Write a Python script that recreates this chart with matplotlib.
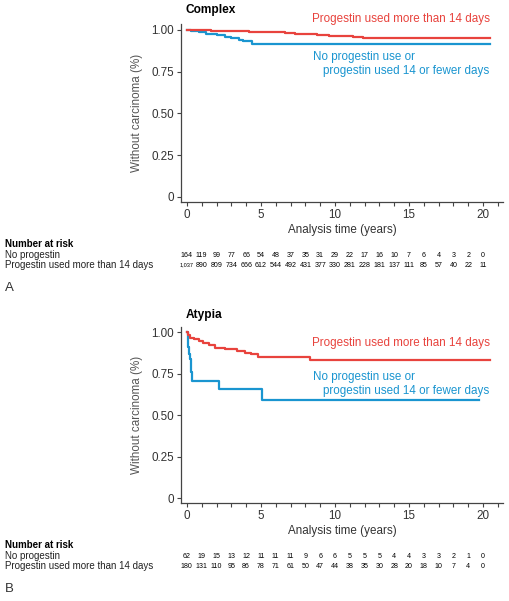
import matplotlib
matplotlib.use('Agg')
import matplotlib.pyplot as plt
from matplotlib.ticker import MultipleLocator
import matplotlib.transforms as mtransforms

plt.rcParams['font.family'] = ['Liberation Sans', 'DejaVu Sans']

RED = '#e8433d'
BLUE = '#1a95d0'
GREY = '#444444'

# Panel A - complex hyperplasia
complex_prog_t = [0, 0.8, 1.6, 2.5, 3.3, 4.2, 5.0, 5.8, 6.6, 7.3, 8.1, 8.8, 9.6, 10.4, 11.2, 11.9, 20.5]
complex_prog_s = [1.0, 0.998, 0.996, 0.994, 0.992, 0.990, 0.988, 0.985, 0.982, 0.978, 0.974, 0.970, 0.966, 0.962, 0.958, 0.954, 0.954]
complex_none_t = [0, 0.3, 0.8, 1.3, 2.0, 2.6, 3.0, 3.5, 3.8, 4.4, 20.5]
complex_none_s = [1.0, 0.994, 0.988, 0.976, 0.968, 0.960, 0.950, 0.942, 0.932, 0.914, 0.914]

# Panel B - atypia
atypia_prog_t = [0, 0.1, 0.2, 0.5, 0.8, 1.1, 1.5, 1.9, 2.6, 3.4, 3.9, 4.3, 4.8, 6.5, 8.3, 20.5]
atypia_prog_s = [1.0, 0.985, 0.964, 0.958, 0.950, 0.937, 0.925, 0.904, 0.898, 0.890, 0.878, 0.868, 0.853, 0.850, 0.833, 0.833]
atypia_none_t = [0, 0.05, 0.1, 0.15, 0.2, 0.25, 0.3, 0.35, 2.15, 5.1, 19.7]
atypia_none_s = [1.0, 0.95, 0.91, 0.87, 0.84, 0.80, 0.76, 0.707, 0.657, 0.593, 0.593]

risk_years = list(range(0, 21))
complex_risk_none = ['164', '119', '99', '77', '66', '54', '48', '37', '35', '31', '29', '22', '17', '16', '10', '7', '6', '4', '3', '2', '0']
complex_risk_prog = ['1,037', '890', '809', '734', '666', '612', '544', '492', '431', '377', '330', '281', '228', '181', '137', '111', '85', '57', '40', '22', '11']
atypia_risk_none = ['62', '19', '15', '13', '12', '11', '11', '11', '9', '6', '6', '5', '5', '5', '4', '4', '3', '3', '2', '1', '0']
atypia_risk_prog = ['180', '131', '110', '95', '86', '78', '71', '61', '50', '47', '44', '38', '35', '30', '28', '20', '18', '10', '7', '4', '0']

row_labels = ['No progestin', 'Progestin used more than 14 days']

W, H = 509, 601
fig = plt.figure(figsize=(W / 100, H / 100), dpi=100)
FS = 8.4


def fy(px):
    return 1 - px / H


def panel(top_px, bot_px, title, title_px, prog_t, prog_s, none_t, none_s,
          risk_none, risk_prog, lab_px, letter):
    ax = fig.add_axes([181 / W, fy(bot_px), (503 - 181) / W, (bot_px - top_px) / H])
    ax.step(none_t, none_s, where='post', color=BLUE, lw=1.6)
    ax.step(prog_t, prog_s, where='post', color=RED, lw=1.6)
    ax.set_xlim(-0.4, 21.35)
    ax.set_ylim(-0.03, 1.035)
    for s in ['top', 'right']:
        ax.spines[s].set_visible(False)
    for s in ['left', 'bottom']:
        ax.spines[s].set_color(GREY)
        ax.spines[s].set_linewidth(0.9)
    ax.set_yticks([0, 0.25, 0.5, 0.75, 1.0])
    ax.set_yticklabels(['0', '0.25', '0.50', '0.75', '1.00'])
    ax.xaxis.set_major_locator(MultipleLocator(5))
    ax.xaxis.set_minor_locator(MultipleLocator(1))
    ax.tick_params(axis='both', which='both', length=3, width=0.8, color=GREY,
                   labelsize=FS, labelcolor='#333333', pad=2)
    ax.set_xlabel('Analysis time (years)', fontsize=FS, color='#333333', labelpad=2)
    ax.set_ylabel('Without carcinoma (%)', fontsize=FS, color='#555555', labelpad=6)
    fig.text(186 / W, fy(title_px), title, fontsize=8.6, fontweight='bold', va='center')

    # curve labels
    ax.text(20.5, lab_px[0], 'Progestin used more than 14 days', color=RED,
            fontsize=FS, ha='right', va='center')
    ax.text(8.5, lab_px[1], 'No progestin use or', color=BLUE,
            fontsize=FS, ha='left', va='center')
    ax.text(20.4, lab_px[2], 'progestin used 14 or fewer days', color=BLUE,
            fontsize=FS, ha='right', va='center')

    # number at risk table
    y0 = bot_px + 42
    fig.text(5 / W, fy(y0), 'Number at risk', fontsize=7.0, fontweight='bold', va='center')
    fig.text(5 / W, fy(y0 + 11), row_labels[0], fontsize=7.0, va='center', color='#222222')
    fig.text(5 / W, fy(y0 + 21), row_labels[1], fontsize=7.0, va='center', color='#222222')
    tr = mtransforms.blended_transform_factory(ax.transData, fig.transFigure)
    for yr, a, b in zip(risk_years, risk_none, risk_prog):
        fig.text(yr, fy(y0 + 11), a, fontsize=5.1 if len(a) < 4 else 4.0,
                 ha='center', va='center', transform=tr)
        fig.text(yr, fy(y0 + 21), b, fontsize=5.1 if len(b) < 4 else 4.0,
                 ha='center', va='center', transform=tr)
    fig.text(5 / W, fy(y0 + 44), letter, fontsize=9.5, va='center', color='#333333')
    return ax


panel(24, 202, 'Complex', 10, complex_prog_t, complex_prog_s, complex_none_t, complex_none_s,
      complex_risk_none, complex_risk_prog, [1.066, 0.84, 0.755], 'A')
panel(326.5, 503, 'Atypia', 315, atypia_prog_t, atypia_prog_s, atypia_none_t, atypia_none_s,
      atypia_risk_none, atypia_risk_prog, [0.935, 0.73, 0.645], 'B')

fig.savefig('out.png', dpi=100)
